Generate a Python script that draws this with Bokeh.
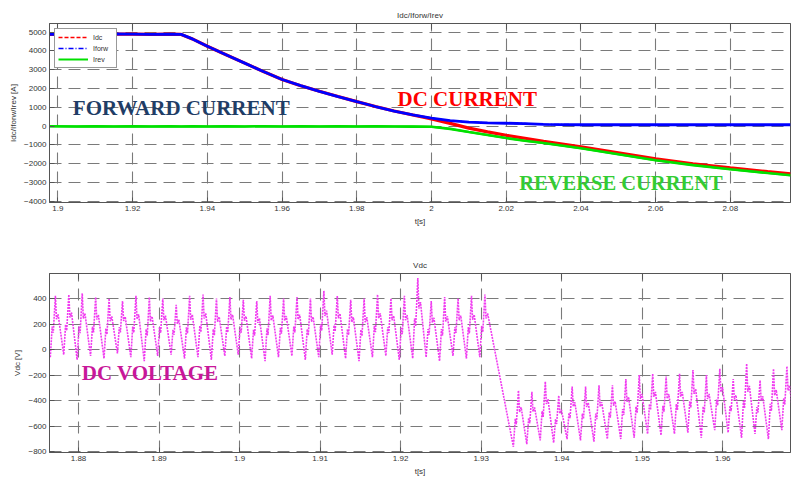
from bokeh.plotting import figure
from bokeh.layouts import column
from bokeh.models import (Range1d, FixedTicker, NumeralTickFormatter, Label,
                          Legend, LegendItem, LinearAxis, CustomJSTickFormatter)
from bokeh.embed import file_html
from bokeh.resources import INLINE

# ---------------- data: currents ----------------
t_cur = [1.8976, 1.905, 1.91, 1.915, 1.92, 1.925, 1.93, 1.933, 1.936, 1.94,
         1.945, 1.95, 1.955, 1.96, 1.965, 1.97, 1.975, 1.98, 1.985, 1.99,
         1.995, 2.0, 2.005, 2.01, 2.015, 2.02, 2.025, 2.03, 2.04, 2.05,
         2.06, 2.07, 2.08, 2.09, 2.0961]
i_forw = [4880, 4900, 4880, 4900, 4890, 4880, 4890, 4880, 4640, 4250,
          3800, 3350, 2900, 2480, 2150, 1850, 1570, 1300, 1040, 800,
          590, 420, 290, 210, 170, 150, 130, 90, 70, 70,
          70, 70, 70, 70, 70]
i_rev = [-10, -20, -10, -20, -10, -20, -10, -20, -10, -20,
         -10, -20, -10, -20, -10, -20, -10, -20, -10, -20,
         -30, -40, -150, -320, -480, -640, -780, -900, -1180, -1500,
         -1820, -2080, -2300, -2500, -2620]
i_dc = [4880, 4900, 4880, 4900, 4890, 4880, 4890, 4880, 4640, 4250,
        3800, 3350, 2900, 2480, 2150, 1850, 1570, 1300, 1040, 800,
        590, 380, 140, -110, -310, -490, -650, -810, -1110, -1430,
        -1750, -2010, -2230, -2430, -2550]

top_x_ticks = [1.9, 1.92, 1.94, 1.96, 1.98, 2.0, 2.02, 2.04, 2.06, 2.08]
top_y_ticks = [-4000, -3000, -2000, -1000, 0, 1000, 2000, 3000, 4000, 5000]

# ---------------- data: DC voltage (per ripple cycle extremes) ----------------
vdc_period = 0.0016667
vdc_start_before = 1.8765
vdc_peaks_before = [420, 430, 440, 410, 400, 380, 420, 410, 400, 350, 420,
                    430, 400, 410, 390, 380, 420, 400, 410, 400, 460, 420,
                    390, 400, 430, 400, 420, 560, 380, 410, 400, 420, 430]
vdc_troughs_before = [-60, -40, -80, -50, -70, -30, -60, -90, -50, -40, -70,
                      -60, -80, -50, -40, -70, -90, -60, -50, -80, -60, -40,
                      -70, -90, -60, -50, -80, -70, -60, -90, -50, -70, -60]
vdc_start_after = 1.9340
vdc_peaks_after = [-320, -330, -250, -360, -290, -290, -280, -280, -230, -200, -190,
                   -210, -190, -160, -200, -150, -230, -110, -240, -150, -130, -180]
vdc_troughs_after = [-760, -740, -710, -730, -700, -710, -720, -700, -700, -690, -660,
                     -670, -660, -650, -690, -630, -650, -690, -660, -700, -630, -650]

bot_x_ticks = [1.88, 1.89, 1.9, 1.91, 1.92, 1.93, 1.94, 1.95, 1.96]
bot_y_ticks = [-800, -600, -400, -200, 0, 200, 400]

# ripple waveform template within one cycle (fraction of period, fraction of swing)
shape_f = [0.0, 0.14, 0.22, 0.38, 0.46, 0.58]
shape_a = [0.0, 0.5, 0.4, 1.0, 0.62, 0.7]


def cycles(start, lows, highs):
    ts, vs = [], []
    for k, (lo, hi) in enumerate(zip(lows, highs)):
        t0 = start + k * vdc_period
        for f, a in zip(shape_f, shape_a):
            ts.append(t0 + f * vdc_period)
            vs.append(lo + a * (hi - lo))
    return ts, vs


tb, vb = cycles(vdc_start_before, vdc_troughs_before, vdc_peaks_before)
ta, va = cycles(vdc_start_after, vdc_troughs_after, vdc_peaks_after)
t_vdc = tb + ta + [vdc_start_after + len(vdc_peaks_after) * vdc_period]
v_vdc = vb + va + [vdc_troughs_after[-1]]

# ---------------- styling helpers ----------------
FONT = "Liberation Sans"
SERIF = "Liberation Serif"
AX = "#555555"
TXT = "#333333"


def style(p, xt, yt, xlabel, ylabel):
    p.outline_line_color = AX
    p.outline_line_width = 1
    p.title.text_font = FONT
    p.title.text_font_size = "8px"
    p.title.text_font_style = "normal"
    p.title.text_color = TXT
    p.title.align = "center"
    p.title.offset = 0
    p.title.standoff = 7
    xb = p.below[0]
    yl = p.left[0]
    xb.ticker = FixedTicker(ticks=xt)
    yl.ticker = FixedTicker(ticks=yt)
    xb.formatter = NumeralTickFormatter(format="0.[00]")
    xb.axis_label = xlabel
    yl.axis_label = ylabel
    for ax in (xb, yl):
        ax.axis_line_color = AX
        ax.major_tick_in = 5
        ax.major_tick_out = 0
        ax.major_tick_line_color = AX
        ax.minor_tick_line_color = None
        ax.major_label_text_font = FONT
        ax.major_label_text_font_size = "8px"
        ax.major_label_text_color = TXT
        ax.axis_label_text_font = FONT
        ax.axis_label_text_font_size = "8px"
        ax.axis_label_text_font_style = "normal"
        ax.axis_label_text_color = TXT
        ax.major_label_standoff = 3
        ax.axis_label_standoff = 3
    for g in (p.xgrid[0], p.ygrid[0]):
        g.grid_line_color = "#7a7a7a"
        g.grid_line_dash = "12 7"
        g.grid_line_width = 1.1
    top = LinearAxis(ticker=FixedTicker(ticks=xt), major_tick_in=6, major_tick_out=0,
                     formatter=CustomJSTickFormatter(code="return ''"),
                     major_label_standoff=0,
                     axis_line_color=AX, major_tick_line_color=AX,
                     minor_tick_line_color=None)
    p.add_layout(top, "above")


# ---------------- top figure ----------------
p1 = figure(width=791, height=228, output_backend="svg", toolbar_location=None,
            x_range=Range1d(1.89775, 2.0961), y_range=Range1d(-4070, 5460),
            title="Idc/Iforw/Irev",
            min_border_left=48, min_border_right=1, min_border_top=23, min_border_bottom=24)
style(p1, top_x_ticks, top_y_ticks, "t[s]", "Idc/Iforw/Irev [A]")

# thin styled copies (used by the legend), covered by the thick traces
lg_dc = p1.line(t_cur, i_dc, color="#ff0000", line_width=1.5, line_dash="4 2")
lg_rv = p1.line(t_cur, i_rev, color="#00e000", line_width=2)
lg_fw = p1.line(t_cur, i_forw, color="#0000ff", line_width=1.5, line_dash="5 2 1 2")

p1.line(t_cur, i_dc, color="#ff0000", line_width=3.2)
p1.line(t_cur, i_rev, color="#00e000", line_width=2.6)
p1.line(t_cur, i_forw, color="#0000ff", line_width=2.8)

legend = Legend(items=[LegendItem(label="Idc", renderers=[lg_dc]),
                       LegendItem(label="Iforw", renderers=[lg_fw]),
                       LegendItem(label="Irev", renderers=[lg_rv])],
                location="top_left", margin=5, padding=3, spacing=1,
                glyph_width=30, glyph_height=10, label_height=10,
                label_standoff=5, label_text_font=FONT, label_text_font_size="7px",
                label_text_color=TXT, border_line_color="#333333",
                background_fill_color="white", background_fill_alpha=1)
p1.add_layout(legend, "center")

p1.add_layout(Label(x=1.904, y=950, text="FORWARD CURRENT", text_font=SERIF,
                    text_font_size="21px", text_font_style="bold",
                    text_color="#1f3d66", text_baseline="middle"))
p1.add_layout(Label(x=1.9909, y=1420, text="DC CURRENT", text_font=SERIF,
                    text_font_size="21px", text_font_style="bold",
                    text_color="#ff0000", text_baseline="middle"))
p1.add_layout(Label(x=2.0235, y=-3050, text="REVERSE CURRENT", text_font=SERIF,
                    text_font_size="20.5px", text_font_style="bold",
                    text_color="#33cc33", text_baseline="middle"))

# ---------------- bottom figure ----------------
p2 = figure(width=791, height=250, output_backend="svg", toolbar_location=None,
            x_range=Range1d(1.8764, 1.96841), y_range=Range1d(-805, 595),
            title="Vdc",
            min_border_left=49, min_border_right=1, min_border_top=45, min_border_bottom=26)
style(p2, bot_x_ticks, bot_y_ticks, "t[s]", "Vdc [V]")

p2.line(t_vdc, v_vdc, color="#f03cf0", line_width=1.6, line_dash="2 1")

p2.add_layout(Label(x=1.8804, y=-180, text="DC VOLTAGE", text_font=SERIF,
                    text_font_size="21px", text_font_style="bold",
                    text_color="#c8179a", text_baseline="middle"))

layout = column(p1, p2, spacing=0)
open("out.html", "w").write(file_html(layout, INLINE))
